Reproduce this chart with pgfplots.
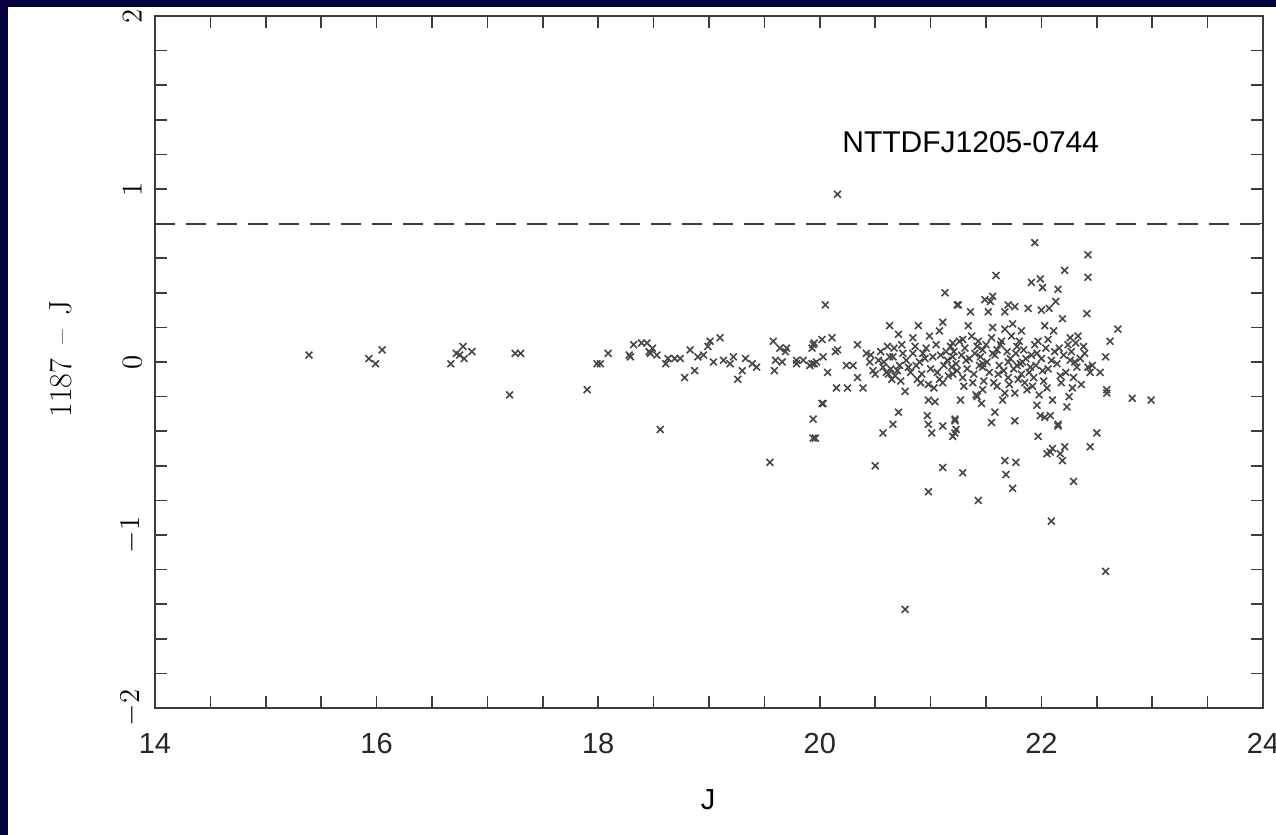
\documentclass[border=0pt]{standalone}
\usepackage{pgfplots}
\pgfplotsset{compat=1.18}
\usepackage{pgfplotstable}
\usepackage{fontspec}
\newfontfamily\hv{Liberation Sans}
\definecolor{navy}{RGB}{3,3,66}
\definecolor{framec}{RGB}{60,60,60}

\pgfplotstableread{
J c
15.39 0.04
15.93 0.02
15.99 -0.01
16.05 0.07
16.67 -0.01
16.72 0.05
16.75 0.04
16.78 0.09
16.79 0.02
16.86 0.06
17.20 -0.19
17.25 0.05
17.30 0.05
17.90 -0.16
17.99 -0.01
18.02 -0.01
18.09 0.05
18.28 0.04
18.29 0.03
18.32 0.10
18.39 0.11
18.44 0.11
18.46 0.06
18.47 0.05
18.49 0.08
18.53 0.04
18.56 -0.39
18.61 -0.01
18.63 0.02
18.69 0.02
18.74 0.02
18.78 -0.09
18.83 0.07
18.87 -0.05
18.90 0.03
18.95 0.04
18.99 0.09
19.01 0.12
19.04 0.00
19.10 0.14
19.13 0.01
19.19 -0.01
19.22 0.03
19.26 -0.10
19.30 -0.05
19.33 0.02
19.39 -0.01
19.43 -0.03
19.55 -0.58
19.58 0.12
19.59 -0.05
19.60 0.01
19.64 0.08
19.66 0.00
19.69 0.06
19.70 0.08
19.79 0.01
19.79 -0.01
19.85 0.01
19.91 -0.02
19.93 -0.01
19.93 0.08
19.94 0.10
19.95 0.11
19.95 -0.01
19.97 0.00
19.94 -0.33
19.94 -0.44
19.96 -0.44
20.02 0.13
20.02 -0.24
20.03 -0.24
20.03 0.03
20.05 0.33
20.07 -0.06
20.11 0.14
20.14 0.06
20.15 -0.15
20.16 0.07
20.16 0.97
20.24 -0.02
20.25 -0.15
20.30 -0.02
20.34 0.10
20.34 -0.09
20.39 -0.15
20.42 0.05
20.45 0.00
20.46 0.04
20.48 -0.05
20.50 -0.07
20.50 -0.60
20.53 0.01
20.55 0.06
20.57 -0.03
20.57 -0.41
20.58 0.00
20.60 -0.06
20.61 0.09
20.62 -0.07
20.63 0.21
20.63 0.03
20.64 -0.04
20.65 -0.10
20.66 0.03
20.66 -0.36
20.67 0.08
20.68 -0.08
20.70 -0.05
20.71 0.16
20.71 -0.29
20.72 -0.02
20.73 -0.11
20.74 0.10
20.75 0.05
20.77 -0.17
20.77 -1.43
20.78 0.01
20.80 -0.03
20.82 -0.06
20.84 0.14
20.84 0.05
20.86 0.09
20.87 -0.02
20.88 -0.10
20.89 0.21
20.90 0.00
20.91 -0.12
20.92 -0.07
20.93 0.05
20.95 0.02
20.96 0.08
20.97 -0.31
20.98 -0.13
20.98 -0.22
20.98 -0.36
20.98 -0.75
20.99 0.15
21.00 -0.04
21.01 -0.41
21.02 0.03
21.03 -0.15
21.04 -0.23
21.05 0.10
21.06 -0.06
21.08 0.18
21.08 -0.10
21.09 0.04
21.11 0.23
21.11 -0.12
21.11 -0.37
21.11 -0.61
21.12 -0.02
21.13 0.40
21.14 0.06
21.15 0.01
21.16 -0.08
21.18 0.09
21.19 -0.03
21.20 -0.07
21.20 -0.43
21.20 0.11
21.20 0.03
21.21 0.06
21.22 -0.33
21.22 -0.34
21.22 -0.41
21.23 -0.01
21.23 -0.39
21.24 0.33
21.24 -0.05
21.25 0.33
21.26 0.12
21.27 -0.22
21.28 0.04
21.29 0.13
21.29 -0.09
21.29 -0.64
21.30 -0.14
21.31 0.08
21.32 0.01
21.33 -0.04
21.34 0.21
21.35 0.02
21.36 0.29
21.37 0.15
21.38 -0.12
21.39 -0.07
21.40 0.05
21.41 -0.19
21.42 0.09
21.42 -0.20
21.43 0.12
21.43 -0.80
21.44 -0.02
21.45 0.03
21.46 -0.24
21.47 0.07
21.47 -0.01
21.47 -0.03
21.47 -0.16
21.48 -0.11
21.49 0.36
21.50 0.10
21.51 0.00
21.52 0.29
21.53 -0.06
21.54 0.35
21.55 0.14
21.55 -0.35
21.56 0.38
21.56 0.20
21.56 0.05
21.57 -0.12
21.58 0.04
21.58 -0.29
21.59 0.50
21.60 0.07
21.60 -0.14
21.61 -0.07
21.62 -0.02
21.63 0.10
21.64 0.12
21.65 -0.22
21.66 -0.05
21.67 0.29
21.67 0.19
21.67 -0.18
21.67 -0.57
21.68 -0.65
21.69 0.06
21.70 0.33
21.70 0.00
21.70 -0.09
21.71 -0.13
21.72 0.02
21.73 0.15
21.74 0.22
21.74 -0.73
21.75 -0.04
21.76 0.32
21.76 -0.18
21.76 -0.34
21.77 0.05
21.77 -0.58
21.78 0.09
21.78 -0.02
21.79 -0.10
21.80 0.12
21.81 -0.01
21.82 0.18
21.82 -0.07
21.83 0.00
21.84 0.07
21.85 -0.12
21.86 0.02
21.87 -0.16
21.88 0.31
21.89 -0.06
21.90 -0.03
21.91 0.46
21.91 0.04
21.92 -0.14
21.93 -0.09
21.94 0.69
21.94 0.10
21.95 -0.02
21.96 0.05
21.96 -0.25
21.97 0.12
21.97 -0.43
21.98 -0.19
21.99 0.48
21.99 -0.31
22.00 0.30
22.00 0.02
22.01 0.43
22.01 -0.05
22.02 -0.11
22.03 0.21
22.03 -0.32
22.04 0.08
22.05 -0.15
22.05 -0.53
22.06 0.13
22.06 -0.04
22.07 0.31
22.08 -0.31
22.08 -0.52
22.09 0.01
22.09 -0.92
22.10 -0.22
22.10 -0.50
22.11 0.18
22.12 0.06
22.13 0.35
22.14 -0.01
22.15 0.42
22.15 -0.36
22.15 -0.37
22.16 0.08
22.17 -0.08
22.17 -0.53
22.18 -0.12
22.19 0.25
22.19 -0.57
22.20 0.04
22.21 0.53
22.21 -0.49
22.22 -0.06
22.23 -0.26
22.24 0.10
22.25 -0.20
22.26 0.14
22.26 0.01
22.27 0.06
22.28 -0.15
22.29 -0.09
22.29 -0.69
22.30 0.00
22.31 0.11
22.32 -0.03
22.33 0.15
22.35 0.02
22.36 -0.13
22.38 0.09
22.39 0.05
22.41 0.28
22.42 0.62
22.42 0.49
22.42 -0.03
22.44 -0.06
22.44 -0.49
22.46 -0.02
22.50 -0.41
22.53 -0.06
22.58 0.03
22.58 -1.21
22.59 -0.16
22.59 -0.18
22.62 0.12
22.69 0.19
22.82 -0.21
22.99 -0.22
}\data

\begin{document}
\begin{tikzpicture}
\fill[navy] (0,0) rectangle (638pt,417.5pt);
\fill[white] (4pt,0) rectangle (638pt,414pt);
\useasboundingbox (0,0) rectangle (638pt,417.5pt);
\begin{axis}[
  at={(77.5pt,63.5pt)}, anchor=south west,
  scale only axis, width=554pt, height=346pt,
  xmin=14, xmax=24, ymin=-2, ymax=2,
  xtick={14,16,...,24}, xticklabels={14,16,18,20,22,24},
  minor x tick num=3,
  ytick={-2,-1,0,1,2}, minor y tick num=4,
  tick align=inside, major tick length=6pt, minor tick length=6pt,
  every tick/.style={framec, line width=0.8pt},
  axis line style={framec, line width=0.9pt},
  xticklabel style={font=\hv\fontsize{14.5}{17}\selectfont, anchor=north, inner sep=0pt, text=black!85},
  xticklabel shift=12.5pt,
  yticklabel style={rotate=90, anchor=south, inner sep=0pt, font=\fontsize{15.5}{18}\selectfont},
  yticklabel shift=6.5pt,
]
\addplot[framec, line width=1pt, dash pattern=on 10pt off 5.5pt] coordinates {(14,0.8) (24,0.8)};
\addplot[only marks, mark=x, mark size=2.4pt, black!72, mark options={line width=0.8pt}] table[x=J,y=c]{\data};
\node[anchor=west, inner sep=0pt, font=\hv\fontsize{15}{18}\selectfont] at (axis cs:20.2,1.27) {NTTDFJ1205-0744};
\end{axis}
\node[rotate=90, anchor=south, inner sep=0pt, font=\fontsize{16}{19}\selectfont] at (36pt,238pt) {1187\hspace{0.45em}--\hspace{0.45em}J};
\node[inner sep=0pt, font=\hv\fontsize{14.5}{17}\selectfont] at (354pt,17.5pt) {J};
\end{tikzpicture}
\end{document}
